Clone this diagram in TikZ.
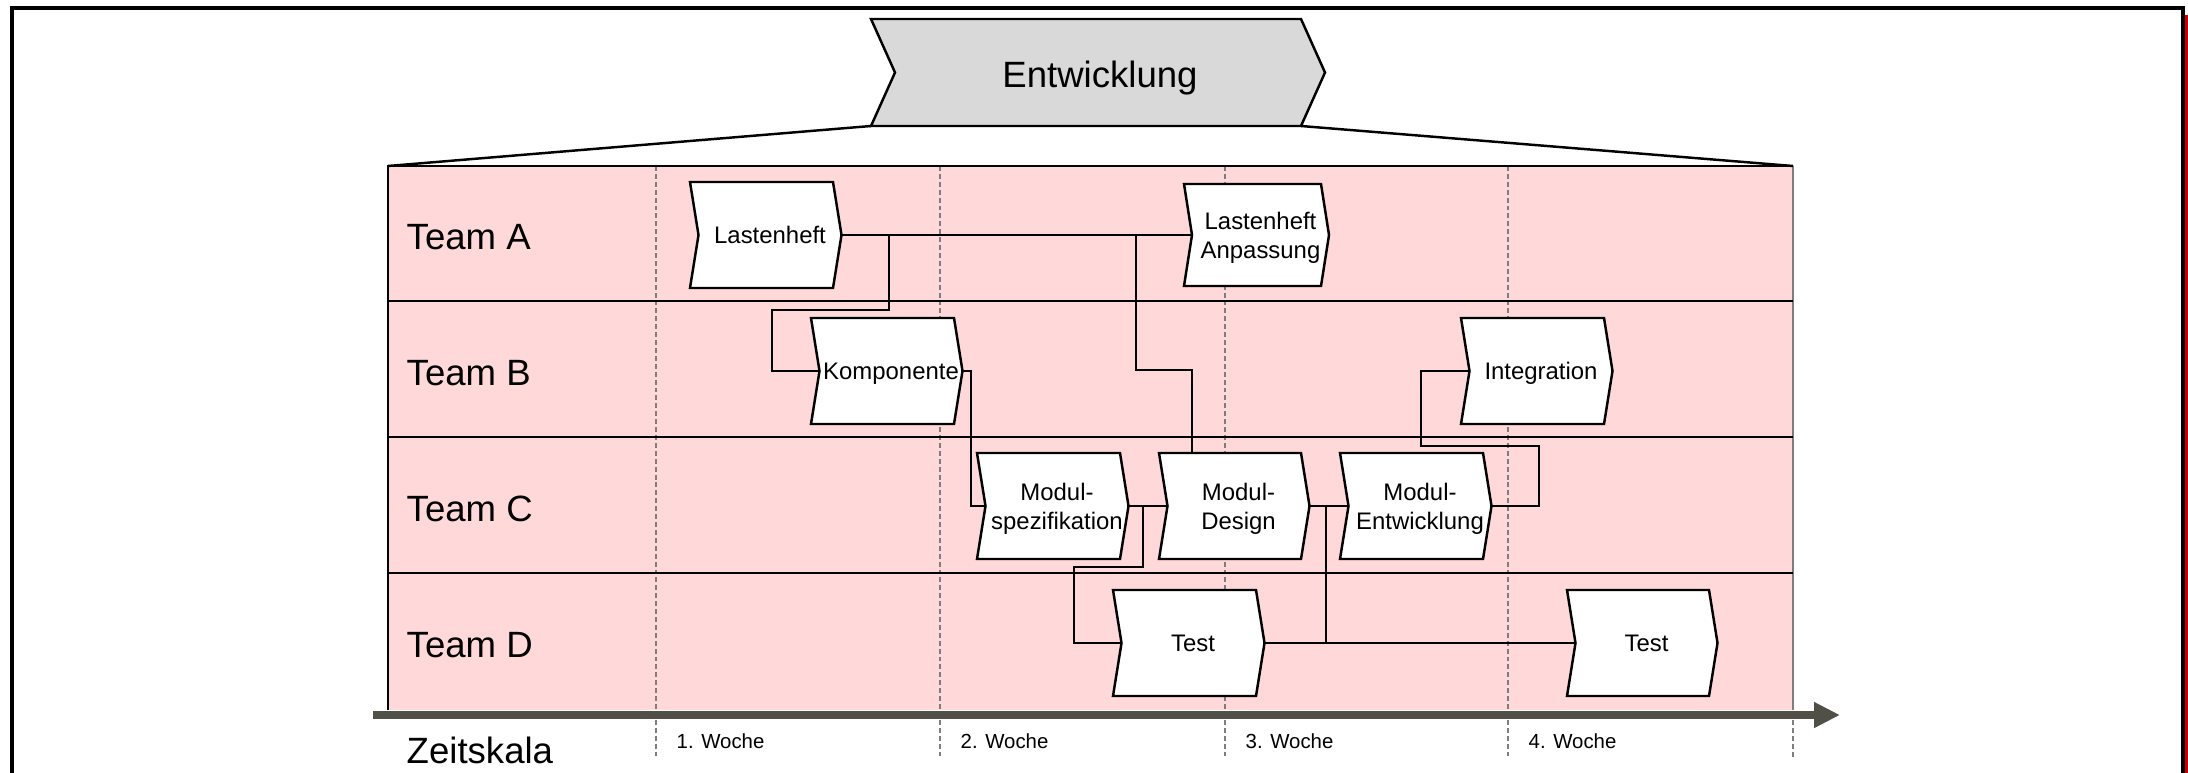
\documentclass[tikz,border=0pt]{standalone}
\usepackage{fontspec}
\setmainfont{Liberation Sans}
\usetikzlibrary{arrows.meta,calc}
\definecolor{pinkbg}{RGB}{255,217,217}
\definecolor{chevgray}{RGB}{217,217,217}
\definecolor{axisgray}{RGB}{80,80,70}
\definecolor{dashgray}{RGB}{125,125,125}
\definecolor{edgered}{RGB}{200,0,0}
\pgfdeclarelayer{bg}
\pgfdeclarelayer{conl}
\pgfsetlayers{bg,conl,main}
\tikzset{
  boxline/.style={draw=black, fill=white, line width=0.7pt, line join=miter},
  conn/.style={draw=black, line width=0.55pt},
  rowline/.style={draw=black, line width=0.75pt},
  dashline/.style={draw=dashgray, line width=0.3pt, dash pattern=on 1.4pt off 0.85pt},
  boxtext/.style={font=\fontsize{6.8}{8.2}\selectfont, align=center, inner sep=0pt, text depth=0pt},
  biglabel/.style={font=\fontsize{10.4}{12.5}\selectfont, inner sep=0pt},
  weeklabel/.style={font=\fontsize{5.8}{7}\selectfont, inner sep=0pt},
}
% #1 name, #2 x left, #3 y top, #4 width, #5 height, #6 depth, #7 text
\newcommand{\chevbox}[7]{%
  \draw[boxline] (#2,#3) coordinate (#1-nw) -- ++(#4,0) -- ++(#6,#5/2) -- ++(-#6,#5/2)
     -- ++(-#4,0) -- ++(#6,-#5/2) -- cycle;
  \coordinate (#1-in) at ($(#2,#3)+(#6,#5/2)$);
  \coordinate (#1-out) at ($(#2,#3)+(#4+#6,#5/2)$);
  \node[boxtext] (#1) at ($(#1-in)!0.5!(#1-out)$) {#7};
}
\begin{document}
\begin{tikzpicture}[x=0.01cm, y=-0.01cm]
\useasboundingbox (0,0) rectangle (2188,773);
% frame
\draw[line width=1.15pt, line cap=rect] (12,773) -- (12,8) -- (2183,8) -- (2183,773);
\draw[edgered, line width=0.85pt] (2186.5,15) -- (2186.5,773);
% pink area
\begin{pgfonlayer}{bg}
\fill[pinkbg] (388,166) rectangle (1793,710);
\foreach \xx in {656,940,1225,1508} {
  \draw[dashline] (\xx,166) -- (\xx,757);
}
\draw[dashline] (1793,720) -- (1793,757);
\draw[draw=dashgray, line width=0.4pt] (1793,166) -- (1793,710);
\foreach \yy in {301,437,573} {
  \draw[rowline] (388,\yy) -- (1793,\yy);
}
\draw[rowline] (388,710) -- (388,166) -- (1793,166);
\end{pgfonlayer}
% time axis
\draw[axisgray, line width=2.45pt, -{Triangle[length=7.4pt, width=6.9pt]}] (373,715) -- (1840,715);
% Entwicklung chevron and funnel
\draw[boxline, fill=chevgray] (871,19) coordinate (ent-nw) -- (1301,19) -- (1325,72.5) -- (1301,126) coordinate (ent-se)
   -- (871,126) coordinate (ent-sw) -- (895,72.5) -- cycle;
\node[biglabel, anchor=base] (ent) at (1100,88) {Entwicklung};
\coordinate (pink-nw) at (388,166);
\coordinate (pink-ne) at (1793,166);
\draw[line width=0.7pt] (ent-sw) -- (pink-nw);
\draw[line width=0.7pt] (ent-se) -- (pink-ne);
% labels
\node[biglabel, anchor=base west] (ta) at (406,249) {Team A};
\node[biglabel, anchor=base west] (tb) at (406,385) {Team B};
\node[biglabel, anchor=base west] (tc) at (406,521) {Team C};
\node[biglabel, anchor=base west] (td) at (406,657) {Team D};
\node[biglabel, anchor=base west] (zs) at (406,763) {Zeitskala};
\node[weeklabel, anchor=base west] (w1) at (676,748) {1. Woche};
\node[weeklabel, anchor=base west] (w2) at (960,748) {2. Woche};
\node[weeklabel, anchor=base west] (w3) at (1245,748) {3. Woche};
\node[weeklabel, anchor=base west] (w4) at (1528,748) {4. Woche};
% process boxes
\chevbox{lh}{690}{182}{143}{106}{8.5}{Lastenheft}
\chevbox{la}{1184}{184}{137}{102}{8}{Lastenheft\\Anpassung}
\chevbox{ko}{811}{318}{143}{106}{8.5}{Komponente}
\chevbox{in}{1461}{318}{143}{106}{8.5}{Integration}
\chevbox{ms}{977}{453}{143}{106}{8.5}{Modul-\\spezifikation}
\chevbox{md}{1159}{453}{142}{106}{8.5}{Modul-\\Design}
\chevbox{me}{1340}{453}{143}{106}{8.5}{Modul-\\Entwicklung}
\chevbox{t1}{1113}{590}{143}{106}{8.5}{Test}
\chevbox{t2}{1567}{590}{142}{106}{8.5}{Test}
% connectors (on a layer below the boxes)
\begin{pgfonlayer}{conl}
\draw[conn] (lh-out) -- (la-in);
\draw[conn] (lh-out) -| (889,310) -| (772,371) -- (ko-in);
\draw[conn] (lh-out) -| (1136,370) -| ($(md-nw)+(33,0)$);
\draw[conn] (ko-out) -| (971,506) -- (ms-in);
\draw[conn] (ms-out) -- (md-in);
\draw[conn] (ms-out) -| (1143,567) -| (1074,643) -- (t1-in);
\draw[conn] (md-out) -- (me-in);
\draw[conn] (md-out) -| (1326,643) -- (t2-in);
\draw[conn] (t1-out) -- (t2-in);
\draw[conn] (me-out) -| (1539,446) -| (1421,371) -- (in-in);
\end{pgfonlayer}
\end{tikzpicture}
\end{document}
